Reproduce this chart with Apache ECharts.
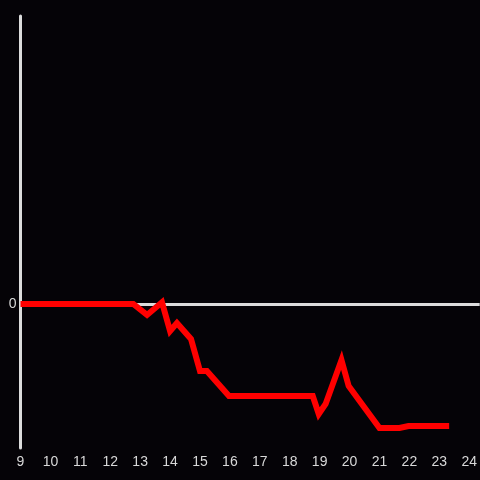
<!DOCTYPE html>
<html>
<head>
<meta charset="utf-8">
<script src="https://cdn.jsdelivr.net/npm/echarts@6/dist/echarts.min.js"></script>
<style>html,body{margin:0;padding:0;background:#050307;}#c{width:480px;height:480px;}</style>
</head>
<body>
<div id="c"></div>
<script>
var xValues = [9, 12.77, 13.23, 13.73, 14.0, 14.23, 14.7, 15.0, 15.23, 15.97, 18.77, 18.97, 19.2, 19.73, 19.97, 21.0, 21.67, 21.97, 23.33];
var yValues = [0, 0, -7.6, 1.2, -18.8, -13.2, -24.3, -46.5, -46.5, -63.9, -63.9, -76.4, -69.4, -38.9, -56.9, -86.1, -86.1, -84.7, -84.7];
var xTickLabels = ['9','10','11','12','13','14','15','16','17','18','19','20','21','22','23','24'];
var yTickLabels = ['0'];

var data = xValues.map(function (x, i) { return [x, yValues[i]]; });
var chart = echarts.init(document.getElementById('c'), null, {renderer: 'canvas'});
chart.setOption({
  backgroundColor: '#050307',
  animation: false,
  grid: {left: 20.5, right: 0, top: 16, bottom: 32, containLabel: false},
  xAxis: {
    type: 'value', min: 9, max: 24.35, interval: 1,
    axisLine: {show: false},
    axisTick: {show: false},
    splitLine: {show: false},
    axisLabel: {
      color: '#d8d8d8', fontSize: 14, fontFamily: 'Liberation Sans', margin: 7,
      showMaxLabel: false,
      formatter: function (v) { var s = String(v); return xTickLabels.indexOf(s) >= 0 ? s : ''; }
    }
  },
  yAxis: {
    type: 'value', min: -100, max: 200, interval: 100,
    axisLine: {show: true, onZero: false, lineStyle: {color: '#dcdcdc', width: 3}},
    axisTick: {show: false},
    splitLine: {show: false},
    axisLabel: {
      color: '#d8d8d8', fontSize: 14, fontFamily: 'Liberation Sans', margin: 4,
      formatter: function (v) { var s = String(v); return yTickLabels.indexOf(s) >= 0 ? s : ''; }
    }
  },
  series: [
    {
      type: 'line', data: [], z: 1, silent: true,
      markLine: {
        silent: true, symbol: ['none', 'none'], label: {show: false},
        lineStyle: {color: '#dcdcdc', width: 3, type: 'solid'},
        data: [{yAxis: 0}]
      }
    },
    {
      type: 'line', data: data, z: 5, showSymbol: false, symbol: 'none',
      lineStyle: {color: '#ff0000', width: 6, cap: 'butt', join: 'miter'}
    }
  ]
});
</script>
</body>
</html>
